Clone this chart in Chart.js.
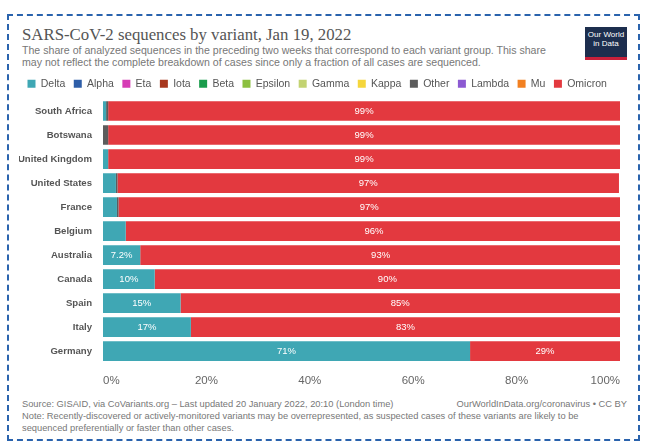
<!DOCTYPE html>
<html>
<head>
<meta charset="utf-8">
<script src="https://cdn.jsdelivr.net/npm/chart.js@4/dist/chart.umd.min.js"></script>
<style>
  body { margin: 0; background: #fff; font-family: "Liberation Sans", Arial, sans-serif; }
  #frame { position: absolute; left: 7px; top: 14px; width: 629px; height: 423px; border: 2px dashed #2a63ad; }
  #title { position: absolute; left: 22px; top: 25px; font-family: "Liberation Serif", serif; font-size: 16.8px; color: #555; white-space: nowrap; }
  #subtitle { position: absolute; left: 22px; top: 44px; width: 535px; font-size: 10.6px; line-height: 12px; color: #777; }
  #logo { position: absolute; left: 585px; top: 27px; width: 42px; height: 27px; background: #1d2e4e; border-bottom: 3px solid #c8203a; color: #fff; font-size: 8px; line-height: 9px; text-align: center; padding-top: 3px; box-sizing: content-box; }
  #wrap { position: absolute; left: 19px; top: 70px; width: 604px; height: 321px; }
  #source { position: absolute; left: 22px; top: 398px; width: 605px; font-size: 9.3px; line-height: 12px; color: #777; }
  #source .right { position: absolute; right: 0; top: 0; }
  #source .note { width: 580px; }
</style>
</head>
<body>
<div id="frame"></div>
<div id="title">SARS-CoV-2 sequences by variant, Jan 19, 2022</div>
<div id="subtitle">The share of analyzed sequences in the preceding two weeks that correspond to each variant group. This share may not reflect the complete breakdown of cases since only a fraction of all cases are sequenced.</div>
<div id="logo">Our World<br>in Data</div>
<div id="wrap"><canvas id="chart"></canvas></div>
<div id="source">
  <div>Source: GISAID, via CoVariants.org – Last updated 20 January 2022, 20:10 (London time)</div>
  <div class="right">OurWorldInData.org/coronavirus • CC BY</div>
  <div class="note">Note: Recently-discovered or actively-monitored variants may be overrepresented, as suspected cases of these variants are likely to be sequenced preferentially or faster than other cases.</div>
</div>
<script>
// countries, top to bottom
const countries = ['South Africa', 'Botswana', 'United Kingdom', 'United States', 'France', 'Belgium', 'Australia', 'Canada', 'Spain', 'Italy', 'Germany'];

// share of sequences (%) per variant
const delta   = [0.6, 0,   1.0, 2.5, 2.7, 4.4, 7.2, 10, 15, 17, 71];
const alpha   = [0, 0, 0, 0, 0, 0, 0, 0, 0, 0, 0];
const eta     = [0, 0, 0, 0, 0, 0, 0, 0, 0, 0, 0];
const iota    = [0, 0, 0, 0, 0, 0, 0, 0, 0, 0, 0];
const beta    = [0, 0, 0, 0, 0, 0, 0, 0, 0, 0, 0];
const epsilon = [0, 0, 0, 0, 0, 0, 0, 0, 0, 0, 0];
const gamma   = [0, 0, 0, 0, 0, 0, 0, 0, 0, 0, 0];
const kappa   = [0, 0, 0, 0, 0, 0, 0, 0, 0, 0, 0];
const other   = [0.4, 1.0, 0, 0.3, 0.3, 0, 0, 0, 0, 0, 0];
const lambda  = [0, 0, 0, 0, 0, 0, 0, 0, 0, 0, 0];
const mu      = [0, 0, 0, 0, 0, 0, 0, 0, 0, 0, 0];
const omicron = [99, 99, 99, 97, 97, 96, 93, 90, 85, 83, 29];

const xTicks = [0, 20, 40, 60, 80, 100];

const series = [
  ['Delta', delta, '#3fa7b4'],
  ['Alpha', alpha, '#2e5ea8'],
  ['Eta', eta, '#d63cb5'],
  ['Iota', iota, '#a8381f'],
  ['Beta', beta, '#1a9c4c'],
  ['Epsilon', epsilon, '#8cc040'],
  ['Gamma', gamma, '#c3d372'],
  ['Kappa', kappa, '#f5d63c'],
  ['Other', other, '#5c5c5c'],
  ['Lambda', lambda, '#8c5ad2'],
  ['Mu', mu, '#f28021'],
  ['Omicron', omicron, '#e3393f']
];

// white percentage labels inside wide enough segments
const barLabels = {
  id: 'barLabels',
  afterDatasetsDraw(chart) {
    const ctx = chart.ctx;
    ctx.save();
    ctx.fillStyle = '#fff';
    ctx.font = '9.5px "Liberation Sans", Arial, sans-serif';
    ctx.textAlign = 'center';
    ctx.textBaseline = 'middle';
    chart.data.datasets.forEach((ds, i) => {
      const meta = chart.getDatasetMeta(i);
      meta.data.forEach((bar, j) => {
        const v = ds.data[j];
        if (v < 5) return;
        const txt = (v < 10 ? v.toFixed(1) : Math.round(v)) + '%';
        ctx.fillText(txt, (bar.x + bar.base) / 2, bar.y);
      });
    });
    ctx.restore();
  }
};

new Chart(document.getElementById('chart'), {
  type: 'bar',
  data: {
    labels: countries,
    datasets: series.map(s => ({
      label: s[0],
      data: s[1],
      backgroundColor: s[2],
      borderWidth: 0,
      categoryPercentage: 0.82,
      barPercentage: 1
    }))
  },
  options: {
    indexAxis: 'y',
    responsive: true,
    maintainAspectRatio: false,
    animation: false,
    layout: { padding: { right: 2 } },
    plugins: {
      legend: {
        position: 'top',
        align: 'start',
        labels: {
          boxWidth: 8,
          boxHeight: 8,
          padding: 8.5,
          color: '#555',
          font: { family: '"Liberation Sans", Arial, sans-serif', size: 10.5 }
        }
      },
      tooltip: { enabled: false }
    },
    scales: {
      x: {
        stacked: true,
        min: 0,
        max: 100,
        afterBuildTicks: axis => { axis.ticks = xTicks.map(v => ({ value: v })); },
        grid: { display: false },
        border: { display: false },
        ticks: {
          align: 'inner',
          color: '#666',
          font: { family: '"Liberation Sans", Arial, sans-serif', size: 11.5 },
          callback: v => v + '%'
        }
      },
      y: {
        stacked: true,
        grid: { display: false },
        border: { display: false },
        afterFit: axis => { axis.width = 84; },
        ticks: {
          color: '#555',
          font: { family: '"Liberation Sans", Arial, sans-serif', size: 9.6, weight: 'bold' }
        }
      }
    }
  },
  plugins: [barLabels]
});
</script>
</body>
</html>
